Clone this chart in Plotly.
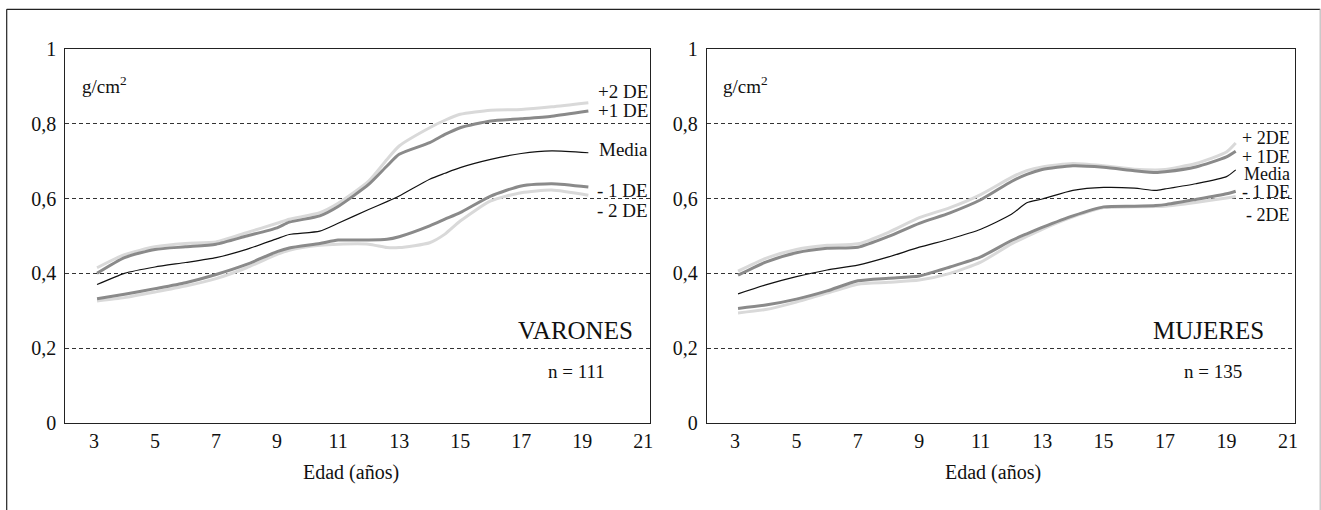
import plotly.graph_objects as go

# ---------------- data ----------------
ages_v = [3.1, 4, 5, 6, 7, 8, 9, 9.4, 10.4, 11, 12, 12.6, 13, 14, 14.5, 15, 16, 17, 18, 19.2]
v_p2 = [0.415, 0.45, 0.471, 0.48, 0.484, 0.509, 0.534, 0.545, 0.5625, 0.5875, 0.647, 0.705, 0.741, 0.79, 0.81, 0.826, 0.837, 0.839, 0.846, 0.857]
v_p1 = [0.40, 0.442, 0.464, 0.471, 0.478, 0.50, 0.522, 0.537, 0.554, 0.579, 0.638, 0.6875, 0.719, 0.75, 0.772, 0.79, 0.808, 0.814, 0.821, 0.835]
v_med = [0.37, 0.40, 0.417, 0.429, 0.442, 0.464, 0.493, 0.504, 0.513, 0.534, 0.571, 0.592, 0.607, 0.652, 0.668, 0.683, 0.705, 0.721, 0.728, 0.723]
v_m1 = [0.332, 0.344, 0.359, 0.375, 0.397, 0.424, 0.458, 0.468, 0.480, 0.489, 0.489, 0.491, 0.498, 0.527, 0.545, 0.5625, 0.607, 0.634, 0.64, 0.631]
v_m2 = [0.326, 0.335, 0.35, 0.366, 0.386, 0.415, 0.451, 0.462, 0.475, 0.478, 0.478, 0.469, 0.469, 0.482, 0.505, 0.54, 0.594, 0.616, 0.623, 0.609]

ages_m = [3.1, 4, 5, 6, 7, 8, 9, 10, 11, 12, 12.5, 13, 14, 15, 16, 16.7, 17, 18, 19, 19.3]
m_p2 = [0.406, 0.44, 0.464, 0.475, 0.479, 0.51, 0.549, 0.576, 0.611, 0.657, 0.675, 0.685, 0.694, 0.688, 0.679, 0.677, 0.678, 0.694, 0.725, 0.749]
m_p1 = [0.395, 0.43, 0.455, 0.467, 0.47, 0.499, 0.534, 0.562, 0.597, 0.646, 0.665, 0.678, 0.688, 0.684, 0.675, 0.67, 0.672, 0.685, 0.712, 0.727]
m_med = [0.345, 0.369, 0.391, 0.409, 0.422, 0.444, 0.47, 0.492, 0.518, 0.558, 0.589, 0.599, 0.622, 0.63, 0.628, 0.622, 0.626, 0.64, 0.659, 0.677]
m_m1 = [0.306, 0.315, 0.331, 0.353, 0.38, 0.387, 0.393, 0.417, 0.444, 0.488, 0.506, 0.523, 0.554, 0.578, 0.58, 0.582, 0.584, 0.598, 0.613, 0.62]
m_m2 = [0.294, 0.303, 0.323, 0.347, 0.371, 0.376, 0.382, 0.40, 0.43, 0.479, 0.499, 0.518, 0.551, 0.576, 0.578, 0.579, 0.58, 0.59, 0.602, 0.606]

x_ticks = [3, 5, 7, 9, 11, 13, 15, 17, 19, 21]
y_ticks = [0, 0.2, 0.4, 0.6, 0.8, 1]
y_ticktext = ["0", "0,2", "0,4", "0,6", "0,8", "1"]

labels_v = ["+2 DE", "+1 DE", "Media", "- 1 DE", "- 2 DE"]
labels_v_y = [0.888, 0.837, 0.733, 0.623, 0.569]
labels_m = ["+ 2DE", "+ 1DE", "Media", "- 1 DE", "- 2DE"]
labels_m_y = [0.762, 0.712, 0.666, 0.618, 0.556]

# ---------------- styles ----------------
FONT = "Liberation Serif"
DARK = "#8a8a8a"
LIGHT = "#d9d9d9"
W, H = 1321, 510

fig = go.Figure()

def add_panel(ages, p2, p1, med, m1, m2, xa, ya):
    for vals, col, wd in [(p2, LIGHT, 3), (m2, LIGHT, 3), (p1, DARK, 3), (m1, DARK, 3), (med, "#111111", 1.2)]:
        fig.add_trace(go.Scatter(x=ages, y=vals, mode="lines", xaxis=xa, yaxis=ya,
                                 line=dict(color=col, width=wd, shape="spline", smoothing=0.6),
                                 showlegend=False, hoverinfo="skip"))

add_panel(ages_v, v_p2, v_p1, v_med, v_m1, v_m2, "x", "y")
add_panel(ages_m, m_p2, m_p1, m_med, m_m1, m_m2, "x2", "y2")

axis_common = dict(showline=True, linecolor="#222222", linewidth=1, mirror=True,
                   zeroline=False, ticks="", automargin=False,
                   tickfont=dict(family=FONT, size=20, color="#111111"))
xcommon = dict(axis_common, tickvals=x_ticks, showgrid=False)
ycommon = dict(axis_common, tickvals=y_ticks, ticktext=y_ticktext, range=[0, 1],
               showgrid=True, gridcolor="#333333", gridwidth=1, griddash="4px,3px",
               ticklabelstandoff=4)

yd = [1 - 422.7 / H, 1 - 49.3 / H]
fig.update_layout(
    width=W, height=H, margin=dict(l=0, r=0, t=0, b=0, pad=0, autoexpand=False),
    paper_bgcolor="white", plot_bgcolor="white", showlegend=False,
    font=dict(family=FONT),
    xaxis=dict(xcommon, domain=[65.3 / W, 650 / W], range=[2.06, 21.22]),
    yaxis=dict(ycommon, domain=yd),
    xaxis2=dict(xcommon, domain=[706.7 / W, 1295 / W], range=[2.08, 21.23]),
    yaxis2=dict(ycommon, domain=yd, anchor="x2"),
)
fig.layout.xaxis2.anchor = "y2"

ann = []
for t, yv in zip(labels_v, labels_v_y):
    ann.append(dict(text=t, x=1.0, xref="x domain", y=yv, yref="y", xanchor="right", yanchor="middle",
                    showarrow=False, font=dict(family=FONT, size=19, color="#111111")))
for t, yv in zip(labels_m, labels_m_y):
    ann.append(dict(text=t, x=0.995, xref="x2 domain", y=yv, yref="y2", xanchor="right", yanchor="middle",
                    showarrow=False, font=dict(family=FONT, size=18, color="#111111")))

for xr, yr, name, n, cx, nx in [("x", "y", "VARONES", "n = 111", 18.77, 18.8),
                                ("x2", "y2", "MUJERES", "n = 135", 18.4, 18.56)]:
    ann.append(dict(text=name, x=cx, xref=xr, y=0.2456, yref=yr, xanchor="center", yanchor="middle",
                    showarrow=False, font=dict(family=FONT, size=25, color="#111111")))
    ann.append(dict(text=n, x=nx, xref=xr, y=0.136, yref=yr, xanchor="center", yanchor="middle",
                    showarrow=False, font=dict(family=FONT, size=19, color="#111111")))
    ann.append(dict(text="g/cm<sup>2</sup>", x=0.025, xref=xr + " domain", y=0.904, yref=yr,
                    xanchor="left", yanchor="middle", showarrow=False,
                    font=dict(family=FONT, size=19, color="#111111")))

for cx in [351 / W, 993 / W]:
    ann.append(dict(text="Edad (años)", x=cx, xref="paper", y=1 - 472 / H, yref="paper",
                    xanchor="center", yanchor="middle", showarrow=False,
                    font=dict(family=FONT, size=20, color="#111111")))
fig.update_layout(annotations=ann)

# outer frame (open at the bottom)
top = 1 - 9.3 / H
lx, rx = 6.7 / W, 1320.2 / W
fig.add_shape(type="line", xref="paper", yref="paper", x0=lx, x1=lx, y0=0, y1=top,
              line=dict(color="#222222", width=1.2))
fig.add_shape(type="line", xref="paper", yref="paper", x0=lx, x1=rx, y0=top, y1=top,
              line=dict(color="#222222", width=1.2))
fig.add_shape(type="line", xref="paper", yref="paper", x0=rx, x1=rx, y0=0, y1=top,
              line=dict(color="#bbbbbb", width=1.2))

fig.write_html("out.html", config={"displayModeBar": False},
               post_script="document.body.style.margin='0px';document.body.style.overflow='hidden';")
